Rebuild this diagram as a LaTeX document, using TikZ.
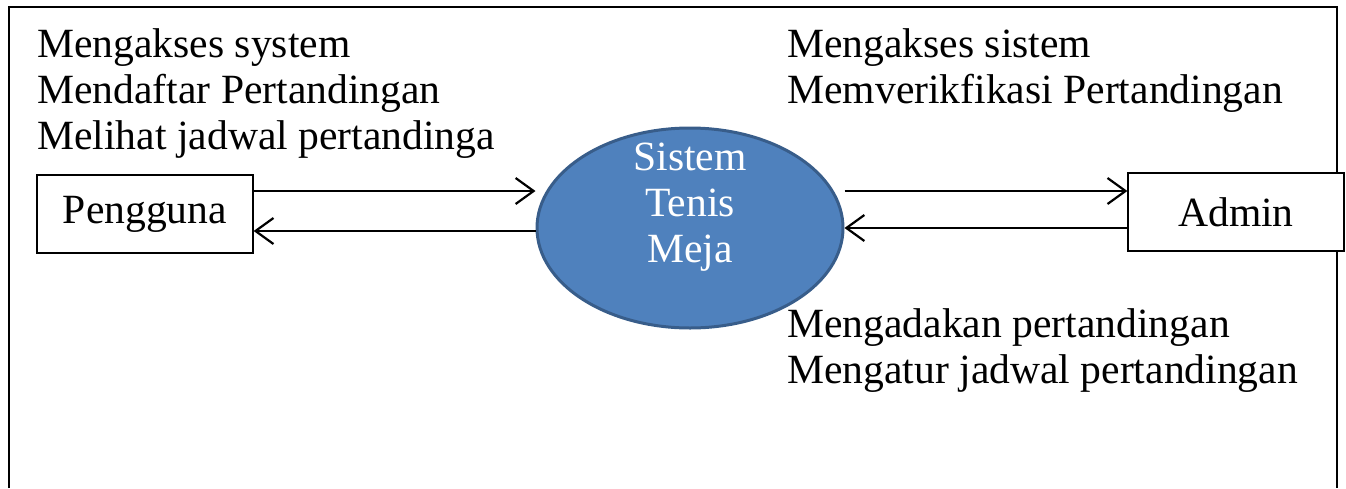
\documentclass[tikz,border=0pt]{standalone}
\usepackage[usenames,dvipsnames]{xcolor}
\usepackage{fontspec}
\setmainfont{Liberation Serif}
\usepackage{tikz}
\usetikzlibrary{arrows,arrows.meta,shapes.geometric}

\definecolor{sysfill}{HTML}{4F81BD}
\definecolor{sysline}{HTML}{385D8A}

\tikzset{
  txt/.style={font=\fontsize{20.8}{23}\selectfont, inner sep=0pt},
  entity/.style={txt, draw, line width=0.6pt, fill=white, minimum width=108pt, minimum height=39pt},
  flow/.style={line width=1.1pt, -{Straight Barb[length=9pt,width=13pt,line width=1.1pt]}}
}

\begin{document}
\begin{tikzpicture}[x=0.5pt,y=-0.5pt]
 \useasboundingbox (0,0) rectangle (1346,488);
 % frame, open at the bottom
 \draw[line width=1.4pt] (9,488) -- (9,7) -- (1337,7) -- (1337,488);

  \draw (145,214) node[entity] (peng) {Pengguna};
  \draw (1236,212) node[entity] (admin) {Admin};
  \draw (690,228) node[ellipse, fill=sysfill, draw=sysline, line width=1.5pt,
        minimum width=153pt, minimum height=100pt, inner sep=0pt] (sys) {};
  \draw (690,262) node[txt, text=white, align=center, anchor=base] (systxt) {Sistem\\Tenis\\Meja};

	\draw (37,149) node[txt, align=left, anchor=base west] (penglbl) {Mengakses system\\Mendaftar Pertandingan\\Melihat jadwal pertandinga};
	\draw (787,103) node[txt, align=left, anchor=base west] (adminlbl) {Mengakses sistem\\Memverikfikasi Pertandingan};
	\draw (787,383) node[txt, align=left, anchor=base west] (adminlbl2) {Mengadakan pertandingan\\Mengatur jadwal pertandingan};


     \path[flow] ([yshift=11.5pt]peng.east) edge ([yshift=11.5pt]peng.east -| sys.west);
     \path[flow] ([yshift=-8.5pt]peng.east -| sys.west) edge ([yshift=-8.5pt]peng.east);
     \path[flow] ([yshift=10.5pt]admin.west -| sys.east) edge ([yshift=10.5pt]admin.west);
     \path[flow] ([yshift=-8pt]admin.west) edge ([yshift=-8pt]admin.west -| sys.east);
\end{tikzpicture}
\end{document}
